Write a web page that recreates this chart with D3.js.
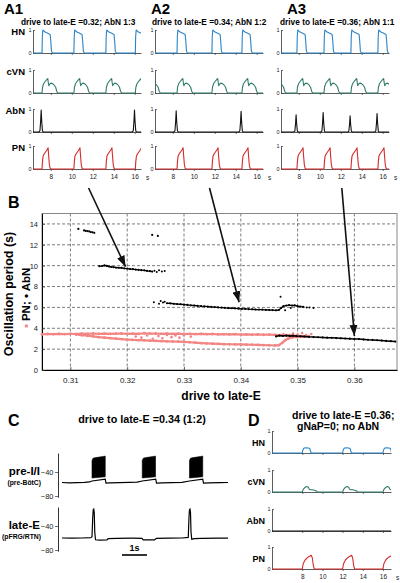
<!DOCTYPE html>
<html><head><meta charset="utf-8">
<script src="https://cdn.jsdelivr.net/npm/d3@7"></script>
<style>body{margin:0;background:#fff}svg{display:block}</style>
</head><body><svg id="chart" width="400" height="583"></svg>
<script>
// ---------------- DATA ----------------
const timeTicks=[8,10,12,14,16];
const rowNames=['HN','cVN','AbN','PN'];
const aTitles=['A1','A2','A3'];
const aSubtitles=['drive to late-E =0.32; AbN 1:3','drive to late-E =0.34; AbN 1:2','drive to late-E =0.36; AbN 1:1'];
// burst onset times (s)
const a1Onsets=[7.16,10.2,13.25,16.06];
const a2Onsets=[5.3,8.4,11.73,14.59];
const a3Onsets=[5.25,7.82,10.4,12.97,15.54];
// AbN spikes [time, peak]
const a1AbN=[[7.16,0.95],[16.06,0.95]];
const a2AbN=[[8.4,0.92],[14.59,0.9]];
const a3AbN=[[7.82,0.75],[10.4,0.85],[12.97,0.7],[15.54,0.8]];
// burst shapes [dt (s), normalized amplitude]
const hnShape=[[0,0],[0.03,0.7],[0.08,1.0],[0.15,0.97],[0.25,0.92],[0.45,0.88],[0.65,0.84],[0.78,0.8],[0.84,0.5],[0.9,0.08],[1.0,0]];
const cvnShape=[[0,0],[0.05,0.25],[0.15,0.4],[0.3,0.5],[0.45,0.58],[0.55,0.63],[0.6,0.45],[0.65,0.32],[0.72,0.38],[0.85,0.43],[1.0,0.41],[1.15,0.35],[1.3,0.25],[1.4,0.08],[1.5,0]];
const abnShape=[[-0.3,0],[-0.2,0.05],[-0.13,0.5],[-0.08,1],[-0.03,0.5],[0.04,0.05],[0.12,0]];
const pnShape=[[0,0],[0.04,0.3],[0.1,0.55],[0.2,0.65],[0.35,0.75],[0.5,0.85],[0.58,0.92],[0.63,0.6],[0.7,0.2],[0.78,0.03],[0.85,0]];
// panel D
const dTitle=['drive to late-E =0.36;','gNaP=0; no AbN'];
const dOnsets=[8,12,16];
const dHnShape=[[0,0],[0.05,0.12],[0.15,0.22],[0.3,0.24],[0.6,0.23],[0.75,0.2],[0.82,0.08],[0.88,0]];
const dCvnShape=[[0,0],[0.1,0.12],[0.25,0.2],[0.45,0.25],[0.6,0.22],[0.7,0.12],[0.8,0.1],[1.0,0.1],[1.2,0.08],[1.4,0.04],[1.5,0]];
const dAbnShape=[[0,0]];
const dPnShape=[[0,0],[0.1,0.25],[0.3,0.42],[0.6,0.55],[0.9,0.62],[1.0,0.5],[1.1,0.15],[1.2,0]];
// panel B
const xTicksB=[0.31,0.32,0.33,0.34,0.35,0.36];
const yTicksB=[0,2,4,6,8,10,12,14];
const pnUpper=[[0.3050,3.42],[0.3060,3.45],[0.3070,3.43],[0.3080,3.46],[0.3090,3.44],[0.3100,3.47],[0.3110,3.45],[0.3120,3.48],[0.3130,3.46],[0.3140,3.50],[0.3150,3.47],[0.3160,3.49],[0.3170,3.46],[0.3180,3.48],[0.3190,3.50],[0.3200,3.47],[0.3210,3.49],[0.3220,3.46],[0.3230,3.52],[0.3240,3.48],[0.3250,3.50],[0.3260,3.47],[0.3270,3.49],[0.3280,3.46],[0.3290,3.48],[0.3300,3.45],[0.3310,3.47],[0.3320,3.44],[0.3330,3.46],[0.3340,3.43],[0.3350,3.45],[0.3360,3.42],[0.3370,3.44],[0.3380,3.41],[0.3390,3.43],[0.3400,3.40],[0.3410,3.42],[0.3420,3.39],[0.3430,3.41],[0.3440,3.38],[0.3450,3.40],[0.3460,3.37],[0.3470,3.35],[0.3480,3.33],[0.3490,3.30],[0.3500,3.28],[0.3510,3.25],[0.3520,3.22]];
const pnLower=[[0.3110,3.40],[0.3120,3.33],[0.3130,3.28],[0.3140,3.22],[0.3150,3.15],[0.3160,3.10],[0.3170,3.05],[0.3180,3.00],[0.3190,2.96],[0.3200,2.92],[0.3210,2.88],[0.3220,2.86],[0.3230,2.84],[0.3240,2.82],[0.3250,2.79],[0.3260,2.77],[0.3270,2.75],[0.3280,2.73],[0.3290,2.72],[0.3300,2.70],[0.3310,2.66],[0.3320,2.62],[0.3330,2.58],[0.3340,2.55],[0.3350,2.52],[0.3360,2.50],[0.3370,2.48],[0.3380,2.47],[0.3390,2.46],[0.3400,2.45],[0.3410,2.43],[0.3420,2.42],[0.3430,2.40],[0.3440,2.39],[0.3450,2.37],[0.3460,2.35],[0.3467,2.38],[0.3473,2.6],[0.3478,2.85],[0.3483,3.0],[0.3490,3.12],[0.3500,3.18],[0.3510,3.2],[0.3520,3.18]];
const pnScatter=[[0.3215,3.2],[0.3225,3.1],[0.3235,3.3],[0.3245,3.0],[0.3255,3.25],[0.3262,3.05],[0.3270,3.35],[0.3278,3.15],[0.3285,3.3],[0.3292,3.1],[0.3300,3.32],[0.3312,3.2],[0.3475,3.45],[0.3485,3.35],[0.3492,3.5],[0.3500,3.4],[0.3508,3.55],[0.3515,3.35],[0.3524,3.45]];
const abnTop=[[0.3114,13.52],[0.3124,13.38],[0.3127,13.33],[0.3130,13.32],[0.3133,13.28],[0.3136,13.22],[0.3139,13.2],[0.3142,13.15]];
const abnPair=[[0.3244,12.95],[0.3254,12.85]];
const abnBand10=[[0.3151,9.95],[0.3156,9.97],[0.3160,10.02],[0.3164,9.98],[0.3168,9.92],[0.3172,9.88],[0.3176,9.86],[0.3180,9.82],[0.3185,9.8],[0.3190,9.78],[0.3195,9.74],[0.3200,9.72],[0.3205,9.68],[0.3210,9.66],[0.3215,9.63],[0.3220,9.6],[0.3225,9.57],[0.3230,9.55],[0.3235,9.5],[0.3240,9.47],[0.3244,9.43]];
const abnScatter10=[[0.3248,9.52],[0.3252,9.4],[0.3256,9.55],[0.3261,9.45],[0.3266,9.5]];
const abnBand6=[[0.3270,6.4],[0.3276,6.38],[0.3282,6.35],[0.3288,6.32],[0.3294,6.3],[0.3300,6.27],[0.3306,6.24],[0.3312,6.2],[0.3318,6.18],[0.3324,6.15],[0.3330,6.12],[0.3336,6.1],[0.3342,6.08],[0.3348,6.05],[0.3354,6.03],[0.3360,6.0],[0.3366,5.98],[0.3372,5.96],[0.3378,5.94],[0.3384,5.92],[0.3390,5.9],[0.3396,5.88],[0.3402,5.86],[0.3408,5.85],[0.3414,5.83],[0.3420,5.82],[0.3426,5.8],[0.3432,5.79],[0.3438,5.78],[0.3444,5.76],[0.3450,5.75],[0.3456,5.74],[0.3462,5.72],[0.3467,5.75],[0.3471,5.95],[0.3475,6.12],[0.3480,6.18],[0.3485,6.22],[0.3490,6.18],[0.3495,6.2],[0.3500,6.12],[0.3505,6.08],[0.3510,6.05]];
const abnScatter6=[[0.3247,6.5],[0.3256,6.35],[0.3259,6.62],[0.3263,6.48],[0.3266,6.55],[0.3470,7.03],[0.3478,5.72],[0.3488,5.95],[0.3516,6.0],[0.3521,5.98],[0.3528,5.95]];
const abnBand3=[[0.3462,3.22],[0.3468,3.3],[0.3474,3.26],[0.3480,3.3],[0.3486,3.27],[0.3492,3.29],[0.3498,3.25],[0.3505,3.23],[0.3512,3.21],[0.3520,3.18],[0.3528,3.16],[0.3536,3.14],[0.3544,3.12],[0.3552,3.1],[0.3560,3.08],[0.3568,3.06],[0.3576,3.04],[0.3584,3.02],[0.3592,3.0],[0.3600,2.98],[0.3608,2.96],[0.3616,2.93],[0.3624,2.9],[0.3632,2.88],[0.3640,2.85],[0.3648,2.82],[0.3656,2.79],[0.3664,2.76],[0.3672,2.72]];
// arrows: [A column, time in A panel] -> [drive, period] in B
const arrowFrom=[[0,11.6],[1,11.5],[2,12.1]];
const arrowTo=[[0.3197,9.9],[0.3397,6.5],[0.36,3.26]];
// panel C (time s, membrane potential mV)
const cTitle='drive to late-E =0.34 (1:2)';
const preITrace=[[0,-57.5],[0.3,-58],[0.6,-57.6],[0.9,-57.2],[1.1,-56.6],[1.2,-55],[1.73,-52],[1.76,-58.5],[1.9,-58.2],[2.3,-57.8],[2.7,-57.4],[3.0,-57],[3.21,-55],[3.75,-52],[3.78,-58.5],[4.0,-58.2],[4.4,-57.8],[4.8,-57.3],[5.1,-55],[5.63,-52],[5.66,-58.5],[5.9,-58.2],[6.3,-57.8],[6.64,-57.5]];
const preIBursts=[[1.2,1.73],[3.21,3.75],[5.1,5.63]];
const burstTop=[[0,-21],[0.04,-17],[0.15,-16],[0.3,-15],[0.45,-14],[0.53,-13.5]];
const burstBottom=[[0,-50],[0.53,-48]];
const lateETrace=[[0,-60],[0.4,-60.3],[0.8,-60],[1.15,-59.5],[1.2,-58],[1.23,-25],[1.25,-13],[1.27,-12],[1.29,-18],[1.31,-50],[1.34,-63],[1.5,-63.5],[1.8,-63],[1.85,-61],[2.2,-60.5],[2.8,-60.3],[3.2,-60.5],[3.25,-63],[3.7,-63],[3.78,-60.5],[4.3,-60.2],[4.8,-60],[5.05,-59],[5.08,-25],[5.1,-13],[5.12,-12],[5.14,-18],[5.16,-50],[5.19,-62],[5.3,-61],[5.6,-60.5],[6.2,-60.3],[6.64,-60.2]];
const cTicks=[-40,-80];

// ---------------- DRAW ----------------
const FONT='"Liberation Sans", Arial, Helvetica, sans-serif';
const svg=d3.select('#chart').attr('font-family',FONT);
svg.append('rect').attr('width',400).attr('height',583).attr('fill','#fff');
const colors={HN:'#2a84c6',cVN:'#2f7a6b',AbN:'#111',PN:'#d42a2a'};
const pink='#f28684';

function buildTrace(shape,evs,t0,t1){
  const pts=[[t0-10,0]];
  evs.forEach(([t,h])=>shape.forEach(([dt,v])=>pts.push([t+dt,v*h])));
  pts.push([t1+10,0]);
  return pts;
}
function styleAxis(g,fs){
  g.select('.domain').attr('stroke','#333').attr('stroke-width',0.8);
  g.selectAll('.tick line').attr('stroke','#333').attr('stroke-width',0.7);
  g.selectAll('.tick text').attr('font-size',fs).attr('fill','#222').attr('font-family',FONT);
}
let clipN=0;
function drawStack(cfg){
  const xs=d3.scaleLinear().domain(cfg.dom).range([cfg.x0,cfg.x0+cfg.w]);
  const id='clip'+(clipN++);
  svg.append('clipPath').attr('id',id).append('rect').attr('x',cfg.x0).attr('y',0).attr('width',cfg.w).attr('height',583);
  cfg.rows.forEach((row,i)=>{
    const base=cfg.bases[i];
    const ys=d3.scaleLinear().domain([0,1]).range([base,base-cfg.h]);
    const last=i===cfg.rows.length-1;
    const gx=svg.append('g').attr('transform',`translate(0,${base})`)
      .call(d3.axisBottom(xs).tickValues(timeTicks).tickSize(2).tickSizeOuter(0).tickPadding(3).tickFormat(last?d3.format('d'):()=>''));
    styleAxis(gx,'6.5px');
    const gy=svg.append('g').attr('transform',`translate(${cfg.x0},0)`)
      .call(d3.axisLeft(ys).tickValues([0,1]).tickFormat(d3.format('d')).tickSize(-2).tickSizeOuter(0).tickPadding(1.5));
    styleAxis(gy,'5.5px');
    svg.append('path').attr('clip-path',`url(#${id})`)
      .datum(buildTrace(row.shape,row.events,cfg.dom[0],cfg.dom[1]))
      .attr('d',d3.line().x(d=>xs(d[0])).y(d=>ys(d[1])))
      .attr('fill','none').attr('stroke',colors[row.name]).attr('stroke-width',1.1).attr('stroke-linejoin','round');
    if(cfg.labelX!==undefined){
      svg.append('text').attr('x',cfg.labelX).attr('y',base-cfg.labelDy).attr('text-anchor','end')
        .attr('font-weight','bold').attr('font-size',cfg.labelFs).text(row.name);
    }
    if(last){
      svg.append('text').attr('x',cfg.x0+cfg.w+5).attr('y',base+11).attr('font-size','6.5px').attr('fill','#222').text('s');
    }
  });
  return xs;
}

// Panel A
const aX0=[33,155,281];
const aOn=[a1Onsets,a2Onsets,a3Onsets];
const aAb=[a1AbN,a2AbN,a3AbN];
const aXs=[];
aX0.forEach((x0,c)=>{
  const ev=aOn[c].map(t=>[t,1]);
  const rows=[
    {name:'HN',shape:hnShape,events:ev},
    {name:'cVN',shape:cvnShape,events:ev},
    {name:'AbN',shape:abnShape,events:aAb[c]},
    {name:'PN',shape:pnShape,events:ev}];
  aXs.push(drawStack({x0,w:108,dom:[6.3,16.6],bases:[53,93,132,169],h:23,rows,
    labelX:c===0?25:undefined,labelDy:18,labelFs:'9.5px'}));
});
[4,151,287].forEach((x,i)=>{
  svg.append('text').attr('x',x).attr('y',14).attr('font-weight','bold').attr('font-size','15px').text(aTitles[i]);
});
[21,152,280].forEach((x,i)=>{
  svg.append('text').attr('x',x).attr('y',25).attr('font-weight','bold').attr('font-size','8.3px').text(aSubtitles[i]);
});

// Panel D
drawStack({x0:272,w:119,dom:[5,16.8],bases:[453,492,531,569],h:22,
  rows:[{name:'HN',shape:dHnShape,events:dOnsets.map(t=>[t,1])},
        {name:'cVN',shape:dCvnShape,events:dOnsets.map(t=>[t,1])},
        {name:'AbN',shape:dAbnShape,events:[]},
        {name:'PN',shape:dPnShape,events:dOnsets.map(t=>[t,1])}],
  labelX:265,labelDy:7,labelFs:'9px'});
svg.append('text').attr('x',248).attr('y',426).attr('font-weight','bold').attr('font-size','16px').text('D');
svg.append('text').attr('x',292).attr('y',419).attr('font-weight','bold').attr('font-size','10.5px').text(dTitle[0]);
svg.append('text').attr('x',297).attr('y',430).attr('font-weight','bold').attr('font-size','10.5px').text(dTitle[1]);

// Panel B
const bx=d3.scaleLinear().domain([0.305,0.3675]).range([42,397]);
const by=d3.scaleLinear().domain([0,15]).range([370,213.5]);
const gB=svg.append('g');
gB.selectAll('.vg').data(xTicksB).join('line').attr('x1',d=>bx(d)).attr('x2',d=>bx(d)).attr('y1',by(15)).attr('y2',by(0))
  .attr('stroke','#444').attr('stroke-width',0.7).attr('stroke-dasharray','3,2');
gB.selectAll('.hg').data(yTicksB.filter(d=>d>0)).join('line').attr('x1',bx.range()[0]).attr('x2',bx.range()[1]).attr('y1',d=>by(d)).attr('y2',d=>by(d))
  .attr('stroke','#444').attr('stroke-width',0.7).attr('stroke-dasharray','3,2');
gB.append('rect').attr('x',bx.range()[0]).attr('y',by(15)).attr('width',bx.range()[1]-bx.range()[0]).attr('height',by(0)-by(15))
  .attr('fill','none').attr('stroke','#888').attr('stroke-width',1);
const gbx=svg.append('g').attr('transform',`translate(0,${by(0)})`).call(d3.axisBottom(bx).tickValues(xTicksB).tickFormat(d3.format('.2f')).tickSize(-3).tickSizeOuter(0).tickPadding(7));
styleAxis(gbx,'8px'); gbx.select('.domain').attr('stroke','#000').attr('stroke-width',1);
const gby=svg.append('g').attr('transform',`translate(${bx.range()[0]},0)`).call(d3.axisLeft(by).tickValues(yTicksB).tickSize(-3).tickSizeOuter(0).tickPadding(4));
styleAxis(gby,'7.5px'); gby.select('.domain').attr('stroke','#000').attr('stroke-width',1);

const lineB=d3.line().x(d=>bx(d[0])).y(d=>by(d[1]));
function band(data,color,sw,r){
  if(sw>0) svg.append('path').datum(data).attr('d',lineB).attr('fill','none').attr('stroke',color).attr('stroke-width',sw).attr('stroke-linejoin','round');
  svg.append('g').selectAll('circle').data(data).join('circle').attr('cx',d=>bx(d[0])).attr('cy',d=>by(d[1])).attr('r',r).attr('fill',color);
}
band(pnUpper,pink,2.2,1.4);
band(pnLower,pink,2.2,1.4);
band(pnScatter,pink,0,1.3);
band(abnTop,'#000',0,1.1);
band(abnPair,'#000',0,1.1);
band(abnBand10,'#000',1.3,1.1);
band(abnScatter10,'#000',0,1.0);
band(abnBand6,'#000',1.3,1.1);
band(abnScatter6,'#000',0,1.0);
band(abnBand3,'#000',1.5,1.1);

svg.append('text').attr('x',8).attr('y',208).attr('font-weight','bold').attr('font-size','16px').text('B');
svg.append('text').attr('x',221).attr('y',400).attr('text-anchor','middle').attr('font-weight','bold').attr('font-size','12px').text('drive to late-E');
svg.append('text').attr('transform','translate(13,294) rotate(-90)').attr('text-anchor','middle').attr('font-weight','bold').attr('font-size','12.5px').text('Oscillation period (s)');
const yl2=svg.append('text').attr('transform','translate(30,298) rotate(-90)').attr('text-anchor','middle').attr('font-weight','bold').attr('font-size','11.5px');
yl2.append('tspan').attr('fill',pink).text('\u25AA');
yl2.append('tspan').text(' PN; \u2022 AbN');

// arrows
const defs=svg.append('defs');
defs.append('marker').attr('id','ah').attr('markerUnits','userSpaceOnUse').attr('markerWidth',11).attr('markerHeight',8)
  .attr('refX',11).attr('refY',4).attr('orient','auto').append('path').attr('d','M0,0L11,4L0,8Z').attr('fill','#111');
arrowFrom.forEach(([c,t],i)=>{
  svg.append('line').attr('x1',aXs[c](t)).attr('y1',188).attr('x2',bx(arrowTo[i][0])).attr('y2',by(arrowTo[i][1]))
    .attr('stroke','#111').attr('stroke-width',1.6).attr('marker-end','url(#ah)');
});

// Panel C
const cx=d3.scaleLinear().domain([0,6.64]).range([62,228]);
const preY=d3.scaleLinear().domain([-82,-8.3]).range([497.2,453]);
const lateY=d3.scaleLinear().domain([-82,-8.3]).range([551.2,507]);
svg.append('text').attr('x',8).attr('y',426).attr('font-weight','bold').attr('font-size','16px').text('C');
svg.append('text').attr('x',142).attr('y',423).attr('text-anchor','middle').attr('font-weight','bold').attr('font-size','10.8px').text(cTitle);
[[preY,'pre-I/I','(pre-BötC)',preITrace],[lateY,'late-E','(pFRG/RTN)',lateETrace]].forEach(([ys,lab,sub,tr],k)=>{
  const g=svg.append('g').attr('transform','translate(58,0)').call(d3.axisLeft(ys).tickValues(cTicks).tickSize(3).tickSizeOuter(0).tickPadding(1.5));
  styleAxis(g,'7.5px'); g.select('.domain').attr('stroke','#000');
  svg.append('text').attr('x',40).attr('y',ys(-40)+3).attr('text-anchor','end').attr('font-weight','bold').attr('font-size','11.5px').text(lab);
  svg.append('text').attr('x',41).attr('y',ys(-40)+13).attr('text-anchor','end').attr('font-weight','bold').attr('font-size','6.8px').text(sub);
  const ln=d3.line().x(d=>cx(d[0])).y(d=>ys(d[1]));
  svg.append('path').datum(tr).attr('d',ln).attr('fill','none').attr('stroke','#000').attr('stroke-width',1.2);
  if(k===0){
    preIBursts.forEach(([t0,t1])=>{
      const poly=burstTop.map(([dt,v])=>[t0+dt,v]).concat(burstBottom.slice().reverse().map(([dt,v])=>[t0+dt,v]));
      svg.append('path').datum(poly).attr('d',d=>ln(d)+'Z').attr('fill','#000').attr('stroke','#000').attr('stroke-width',0.6);
    });
  }
});
// scale bar 1 s
svg.append('line').attr('x1',cx(2.4)).attr('x2',cx(3.4)).attr('y1',555).attr('y2',555).attr('stroke','#000').attr('stroke-width',1.6);
svg.append('text').attr('x',cx(2.9)).attr('y',551).attr('text-anchor','middle').attr('font-weight','bold').attr('font-size','9px').text('1s');
</script></body></html>
